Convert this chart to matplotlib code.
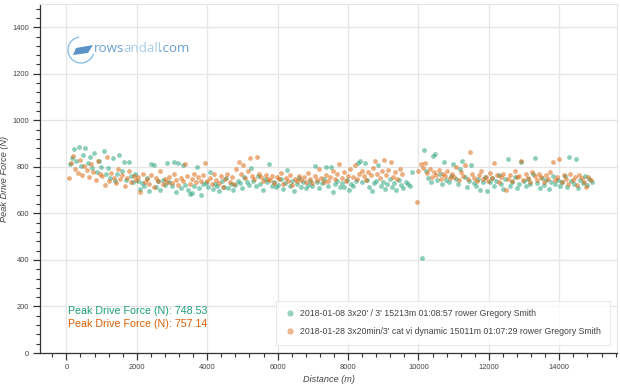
import matplotlib
matplotlib.use('Agg')
import matplotlib.pyplot as plt
from matplotlib.lines import Line2D
from matplotlib.patches import Arc, Polygon
from matplotlib.ticker import MultipleLocator

plt.rcParams['font.family'] = ['Liberation Sans', 'DejaVu Sans']

# Series 1 (green): distance (m) and peak drive force (N)
dist_1 = [
    90, 152, 215, 281, 344, 410, 473, 539, 604, 668, 733, 797, 862, 926, 991,
    1055, 1121, 1184, 1250, 1313, 1379, 1442, 1508, 1571, 1637, 1700, 1766, 1829, 1895, 1958,
    2023, 2089, 2152, 2218, 2281, 2347, 2410, 2476, 2539, 2605, 2668, 2734, 2797, 2863, 2926,
    2991, 3055, 3120, 3184, 3249, 3313, 3378, 3442, 3507, 3571, 3636, 3700, 3765, 3829, 3894,
    3958, 4023, 4087, 4152, 4216, 4281, 4345, 4410, 4474, 4539, 4603, 4668, 4732, 4797, 4861,
    4926, 4990, 5055, 5119, 5184, 5248, 5313, 5377, 5442, 5506, 5571, 5635, 5700, 5764, 5829,
    5893, 5958, 6022, 6087, 6151, 6216, 6280, 6345, 6409, 6474, 6538, 6603, 6667, 6732, 6796,
    6861, 6925, 6990, 7054, 7119, 7183, 7248, 7312, 7377, 7441, 7506, 7570, 7635, 7699, 7764,
    7828, 7893, 7957, 8022, 8086, 8151, 8215, 8280, 8344, 8409, 8473, 8538, 8602, 8667, 8731,
    8796, 8860, 8925, 8989, 9054, 9118, 9183, 9247, 9312, 9376, 9441, 9505, 9570, 9634, 9699, 9763, 9828,
    10090, 10150, 10214, 10279, 10343, 10408, 10472, 10537, 10601, 10666, 10730, 10795, 10859, 10924, 10988,
    11053, 11117, 11182, 11246, 11311, 11375, 11440, 11504, 11569, 11633, 11698, 11762, 11827, 11891, 11956,
    12020, 12085, 12149, 12214, 12278, 12343, 12407, 12472, 12536, 12601, 12665, 12730, 12794, 12859, 12923,
    12988, 13052, 13117, 13181, 13246, 13310, 13375, 13439, 13504, 13568, 13633, 13697, 13762, 13826, 13891,
    13955, 14020, 14084, 14149, 14213, 14278, 14342, 14407, 14471, 14536, 14600, 14665, 14729, 14794, 14858, 14923,
]
force_1 = [
    812, 838, 875, 826, 884, 805, 852, 879, 818, 842, 796, 861, 778, 824, 801,
    868, 771, 794, 752, 836, 739, 768, 852, 781, 819, 742, 823, 759, 733, 770,
    741, 706, 732, 718, 754, 697, 812, 809, 713, 738, 702, 745, 721, 815, 733,
    718, 822, 694, 815, 711, 806, 723, 700, 685, 688, 716, 798, 708, 677, 725,
    731, 712, 777, 703, 726, 719, 697, 738, 715, 751, 709, 728, 700, 722, 741,
    729, 708, 757, 735, 721, 794, 741, 716, 760, 728, 702, 748, 733, 811, 719,
    736, 712, 724, 749, 706, 731, 788, 718, 740, 697, 727, 752, 715, 733, 708,
    722, 741, 716, 803, 735, 710, 729, 746, 798, 719, 800, 694, 725, 741, 713,
    730, 712, 744, 701, 727, 718, 739, 816, 826, 733, 815, 745, 713, 698, 729,
    741, 809, 719, 736, 705, 728, 750, 714, 732, 699, 743, 721, 708, 735, 727, 716, 780,
    407, 874, 781, 752, 733, 848, 856, 742, 768, 727, 819, 745, 733, 761, 814,
    748, 726, 792, 826, 758, 712, 741, 806, 729, 718, 747, 702, 736, 755, 698,
    733, 752, 718, 741, 763, 726, 704, 748, 832, 719, 737, 755, 711, 728, 821,
    739, 716, 747, 725, 768, 838, 731, 709, 752, 720, 744, 703, 736, 759, 727,
    745, 718, 733, 760, 712, 842, 738, 726, 835, 709, 744, 731, 762, 720, 748, 737,
]

# Series 2 (orange)
dist_2 = [
    70, 131, 195, 258, 322, 385, 449, 512, 576, 639, 703, 766, 830, 893, 957,
    1020, 1084, 1147, 1211, 1274, 1338, 1401, 1465, 1528, 1592, 1655, 1719, 1782, 1846, 1909,
    1973, 2036, 2100, 2163, 2227, 2290, 2354, 2417, 2481, 2544, 2608, 2671, 2735, 2798, 2862,
    2925, 2989, 3052, 3116, 3179, 3243, 3306, 3370, 3433, 3497, 3560, 3624, 3687, 3751, 3814,
    3878, 3941, 4005, 4068, 4132, 4195, 4259, 4322, 4386, 4449, 4513, 4576, 4640, 4703, 4767,
    4830, 4894, 4957, 5021, 5084, 5148, 5211, 5275, 5338, 5402, 5465, 5529, 5592, 5656, 5719,
    5783, 5846, 5910, 5973, 6037, 6100, 6164, 6227, 6291, 6354, 6418, 6481, 6545, 6608, 6672,
    6735, 6799, 6862, 6926, 6989, 7053, 7116, 7180, 7243, 7307, 7370, 7434, 7497, 7561, 7624,
    7688, 7751, 7815, 7878, 7942, 8005, 8069, 8132, 8196, 8259, 8323, 8386, 8450, 8513, 8577,
    8640, 8704, 8767, 8831, 8894, 8958, 9021, 9085, 9148, 9212, 9275, 9339, 9402, 9466, 9530,
    9970,
    10000, 10063, 10127, 10190, 10254, 10317, 10381, 10444, 10508, 10571, 10635, 10698, 10762, 10825, 10889,
    10952, 11016, 11079, 11143, 11206, 11270, 11333, 11397, 11460, 11524, 11587, 11651, 11714, 11778, 11841,
    11905, 11968, 12032, 12095, 12159, 12222, 12286, 12349, 12413, 12476, 12540, 12603, 12667, 12730, 12794,
    12857, 12921, 12984, 13048, 13111, 13175, 13238, 13302, 13365, 13429, 13492, 13556, 13619, 13683, 13746,
    13810, 13873, 13937, 14000, 14064, 14127, 14191, 14254, 14318, 14381, 14445, 14508, 14572, 14635, 14699,
    14762, 14826, 14889,
]
force_2 = [
    752, 818, 846, 790, 773, 831, 764, 802, 785, 757, 811, 779, 742, 826, 768,
    761, 723, 844, 738, 775, 752, 729, 790, 746, 766, 718, 754, 783, 737, 760,
    744, 758, 693, 771, 736, 749, 728, 765, 712, 753, 740, 782, 726, 748, 735,
    757, 731, 769, 745, 722, 752, 738, 814, 761, 727, 748, 770, 733, 755, 741,
    763, 816, 739, 752, 726, 768, 744, 731, 759, 712, 747, 770, 735, 756, 728,
    792, 823, 768, 808, 754, 781, 836, 762, 747, 842, 771, 758, 739, 765, 750,
    744, 761, 732, 757, 748, 773, 726, 754, 739, 767, 721, 750, 738, 762, 745,
    756, 737, 772, 748, 729, 761, 744, 790, 752, 735, 766, 741, 758, 783, 749,
    768, 812, 753, 776, 741, 762, 789, 757, 806, 748, 771, 783, 760, 744, 778,
    763, 795, 826, 770, 752, 781, 830, 764, 788, 823, 757, 776, 748, 792, 768,
    647,
    781, 813, 795, 816, 772, 790, 758, 779, 764, 787, 749, 771, 760, 782, 753,
    768, 755, 799, 742, 776, 761, 810, 747, 862, 770, 752, 739, 766, 783, 748,
    757, 741, 774, 752, 815, 763, 736, 758, 771, 702, 749, 766, 740, 782, 755,
    761, 826, 744, 768, 752, 737, 779, 760, 745, 771, 756, 733, 764, 749, 776,
    819, 742, 758, 835, 733, 766, 749, 727, 771, 744, 758, 720, 765, 751, 736,
    713, 757, 742,
]

labels = [
    "2018-01-08 3x20' / 3' 15213m 01:08:57 rower Gregory Smith",
    "2018-01-28 3x20min/3' cat vi dynamic 15011m 01:07:29 rower Gregory Smith",
]
averages = [748.53, 757.14]
colors = ['#1b9e77', '#d95f02']

fig = plt.figure(figsize=(6.2, 3.84), dpi=100)
ax = fig.add_axes([40 / 620, 31 / 384, 577 / 620, 349 / 384])

ax.scatter(dist_1, force_1, s=12, color=colors[0], alpha=0.5, linewidths=0, zorder=3)
ax.scatter(dist_2, force_2, s=12, color=colors[1], alpha=0.5, linewidths=0, zorder=3)

ax.set_xlim(-750, 15640)
ax.set_ylim(0, 1500)
ax.xaxis.set_major_locator(MultipleLocator(2000))
ax.xaxis.set_minor_locator(MultipleLocator(400))
ax.yaxis.set_major_locator(MultipleLocator(200))
ax.yaxis.set_minor_locator(MultipleLocator(40))
ax.grid(True, which='major', color='#e5e5e5', linewidth=0.9, zorder=0)
ax.set_axisbelow(True)

for side in ['top', 'right']:
    ax.spines[side].set_color('#e5e5e5')
for side in ['left', 'bottom']:
    ax.spines[side].set_color('#333333')
    ax.spines[side].set_linewidth(0.9)
ax.tick_params(which='major', direction='out', length=5, width=0.9, color='#333333',
               labelsize=5.4, labelcolor='#444444', pad=3)
ax.tick_params(which='minor', direction='out', length=3, width=0.8, color='#333333')

ax.set_xlabel('Distance (m)', fontsize=6.6, fontstyle='italic', color='#444444', labelpad=3)
ax.set_ylabel('Peak Drive Force (N)', fontsize=6.6, fontstyle='italic', color='#444444', labelpad=2)

# average annotations
ax.text(0.0485, 0.121, f'Peak Drive Force (N): {averages[0]:.2f}', transform=ax.transAxes,
        color=colors[0], fontsize=7.7, va='center', ha='left')
ax.text(0.0485, 0.084, f'Peak Drive Force (N): {averages[1]:.2f}', transform=ax.transAxes,
        color=colors[1], fontsize=7.7, va='center', ha='left')

handles = [Line2D([], [], marker='o', linestyle='none', markersize=4.5, color=c, alpha=0.45,
                  markeredgewidth=0) for c in colors]
leg = ax.legend(handles, labels, loc='lower right', bbox_to_anchor=(0.988, 0.023),
                borderaxespad=0, fontsize=6.3, frameon=True, fancybox=False,
                handlelength=1.2, handletextpad=0.6, borderpad=1.0, labelspacing=1.0)
leg.get_frame().set_edgecolor('#e5e5e5')
leg.get_frame().set_linewidth(0.8)
for t in leg.get_texts():
    t.set_color('#444444')

# rowsandall.com logo
fig.patches.append(Arc((81 / 620, 1 - 50 / 384), 26 / 620, 26 / 384, theta1=95, theta2=335,
                       transform=fig.transFigure, color='#8cc0e8', linewidth=1.0))
fig.patches.append(Polygon([(73 / 620, 1 - 55 / 384), (76 / 620, 1 - 48 / 384),
                            (93 / 620, 1 - 45 / 384), (88 / 620, 1 - 53 / 384)],
                           closed=True, transform=fig.transFigure, facecolor='#5b93c9',
                           edgecolor='none'))
fig.canvas.draw()
renderer = fig.canvas.get_renderer()
x_px = 94
for part, col in [('rows', '#6a9fd0'), ('andall', '#a8cbe8'), ('.com', '#6a9fd0')]:
    t = fig.text(x_px / 620, 1 - 49 / 384, part, color=col, fontsize=9.6, va='center',
                 ha='left', family=['Open Sans', 'DejaVu Sans'])
    x_px = t.get_window_extent(renderer).x1 - 1.5

fig.savefig('out.png', dpi=100)
